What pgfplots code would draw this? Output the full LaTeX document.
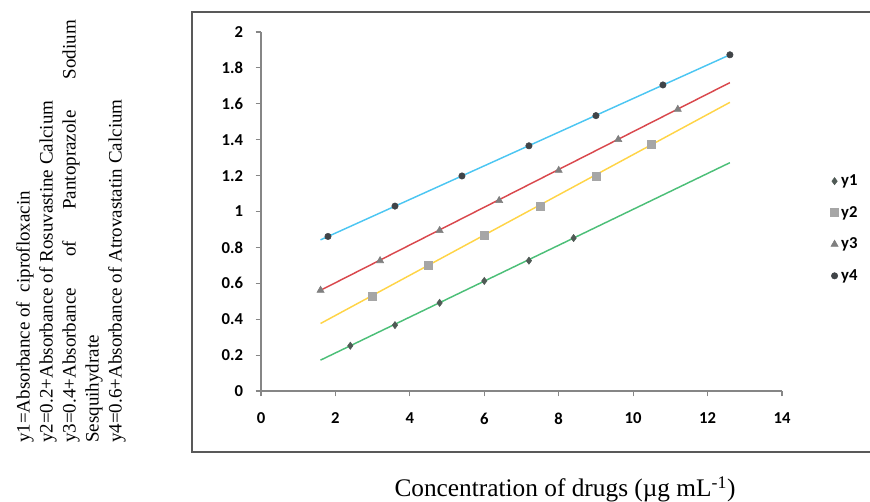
\documentclass[border=0pt]{standalone}
\usepackage{fontspec}
\setmainfont{Liberation Serif}
\newfontfamily\calibri{Carlito}
\usepackage{pgfplots}
\pgfplotsset{compat=1.18}
\definecolor{axgray}{HTML}{868686}
\definecolor{framegray}{HTML}{595959}
\definecolor{cgreen}{HTML}{4CBF78}
\definecolor{cyellow}{HTML}{FFD447}
\definecolor{cred}{HTML}{D9484D}
\definecolor{cblue}{HTML}{4CC6F2}
\definecolor{m1}{HTML}{4F5A55}
\definecolor{m2}{HTML}{A6A6A6}
\definecolor{m3}{HTML}{7F7F7F}
\definecolor{m4}{HTML}{404448}
\begin{document}
\begin{tikzpicture}[x=1pt,y=1pt]
\useasboundingbox (0,0) rectangle (652.5,376.5);
\draw[framegray, line width=1.1pt] (144,37.5) rectangle (662,367.5);
\node[rotate=90, anchor=north west, inner sep=0pt, align=left] at (12,44.25)
{\parbox{317pt}{\fontsize{14.25}{17.25}\selectfont
y1=Absorbance of\ \ ciprofloxacin\\
y2=0.2+Absorbance of Rosuvastine Calcium\\
\makebox[\linewidth][s]{y3=0.4+Absorbance of Pantoprazole Sodium}\\
Sesquihydrate\\
y4=0.6+Absorbance of Atrovastatin Calcium}};
\begin{axis}[
  at={(195.75pt,83.25pt)}, anchor=south west,
  scale only axis, width=390.75pt, height=269.25pt,
  xmin=0, xmax=14, ymin=0, ymax=2,
  axis x line=bottom, axis y line=left,
  axis line style={-, draw=axgray, line width=0.8pt},
  xtick={0,2,4,6,8,10,12,14},
  ytick={0,0.2,0.4,0.6,0.8,1,1.2,1.4,1.6,1.8,2},
  tick align=outside, major tick length=4pt,
  tick style={draw=axgray, line width=0.8pt},
  ticklabel style={font=\calibri\bfseries\fontsize{12.5}{15}\selectfont},
  /pgf/number format/assume math mode=true,
  xticklabel style={yshift=-9pt},
  yticklabel style={xshift=-6pt},
  clip=false,
  legend style={at={(1.085,0.618)}, anchor=north west, draw=none, fill=none,
    font=\calibri\bfseries\fontsize{12.5}{15}\selectfont, row sep=10pt},
  legend cell align=left,
]
% trend lines
\addplot[cgreen, line width=1.1pt, forget plot] coordinates {(1.6,0.172) (12.6,1.272)};
\addplot[cyellow, line width=1.1pt, forget plot] coordinates {(1.6,0.376) (12.6,1.608)};
\addplot[cred, line width=1.1pt, forget plot] coordinates {(1.6,0.561) (12.6,1.718)};
\addplot[cblue, line width=1.1pt, forget plot] coordinates {(1.6,0.842) (12.6,1.873)};
% data points
\addplot[only marks, mark=diamond*, mark size=2.7pt, color=m1] coordinates {
(2.4,0.252) (3.6,0.367) (4.8,0.491) (6,0.613) (7.2,0.726) (8.4,0.852)};
\addlegendentry{y1}
\addplot[only marks, mark=square*, mark size=3pt, color=m2] coordinates {
(3,0.530) (4.5,0.698) (6,0.867) (7.5,1.031) (9,1.198) (10.5,1.373)};
\addlegendentry{y2}
\addplot[only marks, mark=triangle*, mark size=3.1pt, color=m3] coordinates {
(1.6,0.561) (3.2,0.726) (4.8,0.894) (6.4,1.061) (8,1.229) (9.6,1.401) (11.2,1.569)};
\addlegendentry{y3}
\addplot[only marks, mark=*, mark size=2.4pt, color=m4] coordinates {
(1.8,0.861) (3.6,1.030) (5.4,1.198) (7.2,1.366) (9,1.534) (10.8,1.705) (12.6,1.873)};
\addlegendentry{y4}
\end{axis}
\node[font=\fontsize{19}{22}\selectfont] at (423.75,9.5) {Concentration of drugs (µg mL\textsuperscript{-1})};
\end{tikzpicture}
\end{document}
